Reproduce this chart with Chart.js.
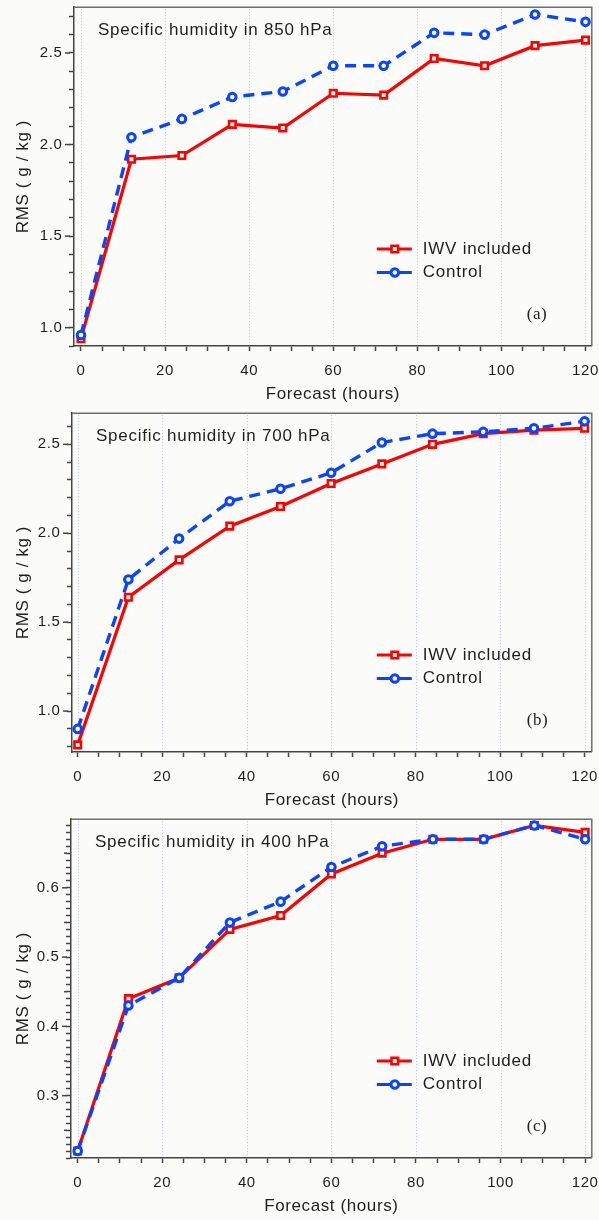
<!DOCTYPE html>
<html>
<head>
<meta charset="utf-8">
<script src="https://cdn.jsdelivr.net/npm/chart.js@4.4.1/dist/chart.umd.min.js"></script>
<style>
html,body{margin:0;padding:0;background:#fbfcfa;}
body{width:599px;height:1220px;position:relative;overflow:hidden;}
canvas{position:absolute;left:0;}
</style>
</head>
<body>
<canvas id="ca" width="599" height="406" style="top:0px"></canvas>
<canvas id="cb" width="599" height="406" style="top:406px"></canvas>
<canvas id="cc" width="599" height="406" style="top:812px"></canvas>
<script>
// ---- data ----
const forecastHours = [0, 12, 24, 36, 48, 60, 72, 84, 96, 108, 120];
const seriesNames = ['IWV included', 'Control'];
const iwv850 = [0.94, 1.92, 1.94, 2.11, 2.09, 2.28, 2.27, 2.47, 2.43, 2.54, 2.57];
const control850 = [0.96, 2.04, 2.14, 2.26, 2.29, 2.43, 2.43, 2.61, 2.60, 2.71, 2.67];
const iwv700 = [0.81, 1.64, 1.85, 2.04, 2.15, 2.28, 2.39, 2.50, 2.56, 2.58, 2.59];
const control700 = [0.90, 1.74, 1.97, 2.18, 2.25, 2.34, 2.51, 2.56, 2.57, 2.59, 2.63];
const iwv400 = [0.22, 0.44, 0.47, 0.54, 0.56, 0.62, 0.65, 0.67, 0.67, 0.69, 0.68];
const control400 = [0.22, 0.43, 0.47, 0.55, 0.58, 0.63, 0.66, 0.67, 0.67, 0.69, 0.67];
const panelTitles = ['Specific humidity in 850 hPa', 'Specific humidity in 700 hPa', 'Specific humidity in 400 hPa'];
const panelTags = ['(a)', '(b)', '(c)'];
const xTickLabels = [0, 20, 40, 60, 80, 100, 120];
const yTickLabels850 = [1.0, 1.5, 2.0, 2.5];
const yTickLabels700 = [1.0, 1.5, 2.0, 2.5];
const yTickLabels400 = [0.3, 0.4, 0.5, 0.6];
const xAxisTitle = 'Forecast (hours)';
const yAxisTitle = 'RMS ( g / kg )';

const RED = '#ff0000';
const BLUE = '#0a44ff';
const SANS = '"Liberation Sans", Arial, sans-serif';
const SERIF = '"Liberation Serif", "Times New Roman", serif';

function near(a, list) { return list.some(v => Math.abs(v - a) < 1e-6); }

const decorPlugin = {
  id: 'decor',
  beforeDraw(chart) { chart.ctx.letterSpacing = '0.6px'; },
  beforeDatasetsDraw(chart) {
    // dotted vertical grid lines at labelled x ticks
    const ctx = chart.ctx, ca = chart.chartArea, xs = chart.scales.x;
    ctx.save();
    ctx.strokeStyle = '#b8bdf0'; ctx.lineWidth = 1;
    ctx.setLineDash([1, 2]);
    xTickLabels.forEach(v => {
      const x = Math.round(xs.getPixelForValue(v)) + 0.5;
      ctx.beginPath(); ctx.moveTo(x, ca.top + 2); ctx.lineTo(x, ca.bottom - 1); ctx.stroke();
    });
    ctx.restore();
  },
  afterDraw(chart, args, opts) {
    const ctx = chart.ctx, ca = chart.chartArea, ys = chart.scales.y;
    ctx.save();
    ctx.letterSpacing = '0px';
    ctx.setLineDash([]);
    // frame (top + right)
    ctx.strokeStyle = '#6e6e6e'; ctx.lineWidth = 1.5;
    ctx.beginPath(); ctx.moveTo(ca.left, ca.top); ctx.lineTo(ca.right, ca.top); ctx.lineTo(ca.right, ca.bottom); ctx.stroke();
    // longer major y ticks
    ctx.strokeStyle = '#444'; ctx.lineWidth = 1.5;
    ys.ticks.forEach(t => {
      const len = opts.tickLen(t.value);
      if (len > 5) {
        const y = ys.getPixelForValue(t.value);
        ctx.beginPath(); ctx.moveTo(ca.left - len, y); ctx.lineTo(ca.left - 4, y); ctx.stroke();
      }
    });
    // panel title
    ctx.fillStyle = '#1e1e1e';
    ctx.font = '17px ' + SANS;
    ctx.letterSpacing = '0.75px';
    ctx.textBaseline = 'middle'; ctx.textAlign = 'left';
    ctx.fillText(opts.title, ca.left + 24, ca.top + 23);
    // legend
    const lx = ca.right - 215;
    chart.data.datasets.forEach((ds, i) => {
      const y = ca.bottom - 97 + i * 23.5;
      ctx.setLineDash([]);
      ctx.strokeStyle = ds.borderColor; ctx.lineWidth = 3;
      ctx.beginPath(); ctx.moveTo(lx, y); ctx.lineTo(lx + 35, y); ctx.stroke();
      ctx.fillStyle = '#ffffff'; ctx.strokeStyle = ds.borderColor; ctx.lineWidth = ds.pointBorderWidth;
      Chart.helpers.drawPoint(ctx, {pointStyle: ds.pointStyle, radius: ds.pointRadius, borderWidth: ds.pointBorderWidth, rotation: 0}, lx + 18, y);
      ctx.fillStyle = '#1e1e1e';
      ctx.fillText(ds.label, lx + 46, y);
    });
    // tag
    ctx.letterSpacing = '0.5px';
    ctx.font = '17px ' + SERIF;
    ctx.fillText(opts.tag, ca.right - 65, ca.bottom - 31.5);
    ctx.restore();
  }
};

function makeChart(id, iwv, ctrl, cfg) {
  const ctx = document.getElementById(id);
  return new Chart(ctx, {
    type: 'line',
    data: {
      datasets: [
        {
          label: seriesNames[0],
          data: forecastHours.map((h, i) => ({x: h, y: iwv[i]})),
          borderColor: RED, borderWidth: 3.2,
          pointStyle: 'rect', pointRadius: 4.6, pointBorderWidth: 2.6,
          pointBackgroundColor: '#ffffff', pointBorderColor: RED,
          tension: 0, order: 2, clip: false
        },
        {
          label: seriesNames[1],
          data: forecastHours.map((h, i) => ({x: h, y: ctrl[i]})),
          borderColor: BLUE, borderWidth: 3.4, borderDash: [11, 7],
          pointStyle: 'circle', pointRadius: 3.8, pointBorderWidth: 3,
          pointBackgroundColor: '#ffffff', pointBorderColor: BLUE,
          tension: 0, order: 1, clip: false
        }
      ]
    },
    options: {
      responsive: false,
      animation: false,
      devicePixelRatio: 1,
      layout: {padding: {top: 6, right: cfg.padRight, left: 0, bottom: 0}},
      plugins: {
        legend: {display: false},
        tooltip: {enabled: false},
        decor: {title: cfg.title, tag: cfg.tag, tickLen: cfg.tickLen}
      },
      scales: {
        x: {
          type: 'linear', position: 'bottom',
          min: cfg.xmin, max: cfg.xmax,
          afterFit: s => { s.height = 60; s.paddingLeft = 0; s.paddingRight = 0; },
          ticks: {
            stepSize: 5, includeBounds: false, autoSkip: false, maxRotation: 0,
            padding: 11, color: '#1e1e1e', font: {family: SANS, size: 15},
            callback: v => near(v, xTickLabels) ? String(Math.round(v)) : ''
          },
          grid: {
            drawOnChartArea: false, drawTicks: true, tickLength: 5,
            tickColor: '#444', tickWidth: 1.5
          },
          border: {display: true, color: '#444', width: 1.5},
          title: {display: true, text: xAxisTitle, color: '#1e1e1e', font: {family: SANS, size: 17}, padding: {top: 0, bottom: 1.8}}
        },
        y: {
          type: 'linear', position: 'left',
          min: cfg.ymin, max: cfg.ymax,
          afterFit: s => { s.width = cfg.left; s.paddingTop = 0; s.paddingBottom = 0; },
          ticks: {
            stepSize: cfg.ystep, includeBounds: false, autoSkip: false,
            padding: 6.5, color: '#1e1e1e', font: {family: SANS, size: 15},
            callback: v => near(v, cfg.ylabels) ? v.toFixed(1) : ''
          },
          grid: {drawOnChartArea: false, drawTicks: true, tickLength: 5, tickColor: '#444', tickWidth: 1.5},
          border: {display: true, color: '#444', width: 1.5},
          title: {display: true, text: yAxisTitle, color: '#1e1e1e', font: {family: SANS, size: 17}, padding: {top: 13, bottom: 0}}
        }
      }
    },
    plugins: [decorPlugin]
  });
}

makeChart('ca', iwv850, control850, {
  title: panelTitles[0], tag: panelTags[0], left: 74, padRight: 7,
  xmin: -1.66, xmax: 121.5, ymin: 0.90, ymax: 2.75, ystep: 0.1, ylabels: yTickLabels850,
  tickLen: v => (Math.abs(v * 2 - Math.round(v * 2)) < 1e-6 ? 9 : 5)
});
makeChart('cb', iwv700, control700, {
  title: panelTitles[1], tag: panelTags[1], left: 72, padRight: 6.7,
  xmin: -1.35, xmax: 121.7, ymin: 0.77, ymax: 2.675, ystep: 0.1, ylabels: yTickLabels700,
  tickLen: v => (Math.abs(v * 2 - Math.round(v * 2)) < 1e-6 ? 9 : 5)
});
makeChart('cc', iwv400, control400, {
  title: panelTitles[2], tag: panelTags[2], left: 71, padRight: 7,
  xmin: -1.58, xmax: 121.58, ymin: 0.21, ymax: 0.699, ystep: 0.01, ylabels: yTickLabels400,
  tickLen: v => (Math.abs(v * 10 - Math.round(v * 10)) < 1e-6 ? 9 : (Math.abs(v * 20 - Math.round(v * 20)) < 1e-6 ? 7 : 5))
});
</script>
</body>
</html>
